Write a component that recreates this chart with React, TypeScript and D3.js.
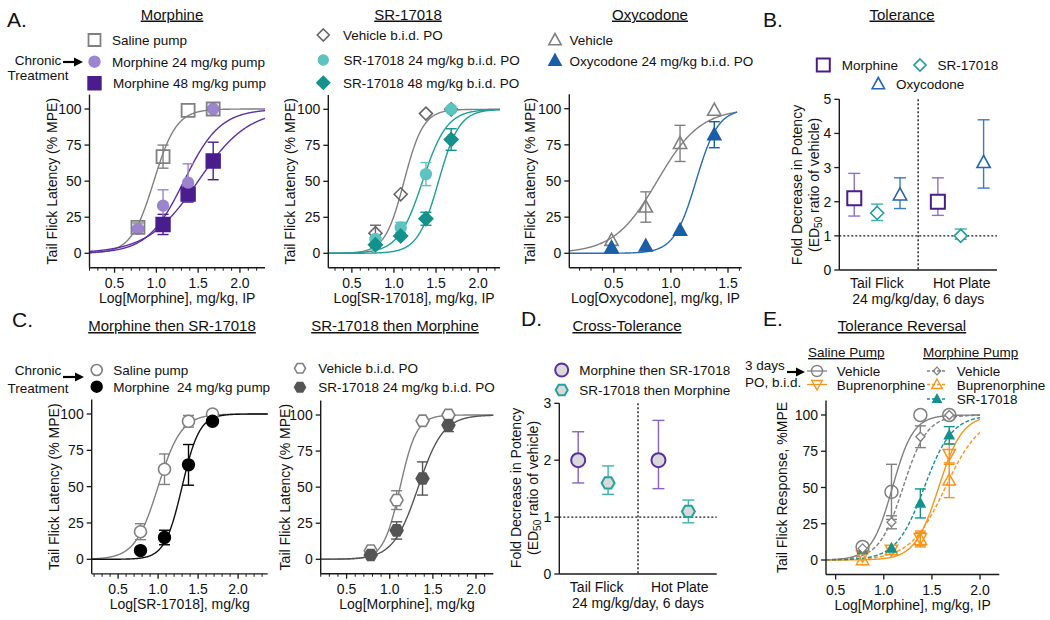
import React from 'react';
import * as d3 from 'd3';

const FONT = '"Liberation Sans", Arial, Helvetica, sans-serif';
const AXIS = '#1a1a1a';
const GRAY = '#808080';
const PURPLE_LIGHT = '#9c84cf';
const PURPLE_DARK = '#4a1d8e';
const PURPLE_LINE = '#5f2fa8';
const TEAL_LIGHT = '#5cc3c0';
const TEAL_DARK = '#13918d';
const TEAL_LINE = '#1d9f9a';
const BLUE = '#1b5ea8';
const ORANGE = '#f7941d';

// ================= DATA =================
const tfDoses = [0.78, 1.08, 1.38, 1.68];
const tfDosesHigh = [1.08, 1.38, 1.68];
const oxyDoses = [0.48, 0.78, 1.08, 1.38];
const logTicks = [0.5, 1.0, 1.5, 2.0];
const oxyTicks = [0.5, 1.0, 1.5];

// A – Morphine
const aMorSalineMean = [18, 67, 99, 100];
const aMorSalineSem = [3, 8, 0, 0];
const aMor24Mean = [17, 33, 49, 100];
const aMor24Sem = [0, 11, 13, 0];
const aMor48Mean = [20, 41, 64];
const aMor48Sem = [7, 5.5, 13];
const aMorEC50 = [0.97, 1.33, 1.5];
const aMorHill = [3.2, 2.0, 1.45];

// A – SR-17018
const aSrVehMean = [14, 41, 97, 100];
const aSrVehSem = [5.5, 0, 0, 0];
const aSr24Mean = [10, 18, 55, 100];
const aSr24Sem = [2, 3.5, 8, 0];
const aSr48Mean = [6, 12, 24, 79];
const aSr48Sem = [2, 0, 4.5, 7.5];
const aSrEC50 = [1.12, 1.34, 1.53];
const aSrHill = [3.8, 3.0, 3.5];

// A – Oxycodone
const aOxyVehMean = [9, 32, 76, 99];
const aOxyVehSem = [0, 10.5, 12.5, 0];
const aOxy24Mean = [4, 5, 16, 82];
const aOxy24Sem = [0, 0, 0, 9];
const aOxyEC50 = [0.88, 1.22];
const aOxyHill = [2.3, 4.5];

// B – Tolerance (fold shift, 95% CI)
const assays = ['Tail Flick', 'Hot Plate'];
const bTicks = [0, 1, 2, 3, 4, 5];
const bMorMean = [2.1, 2.0];
const bMorLo = [1.58, 1.6];
const bMorHi = [2.83, 2.7];
const bSrMean = [1.67, 1.0];
const bSrLo = [1.45, 0.9];
const bSrHi = [1.93, 1.2];
const bOxyMean = [2.2, 3.15];
const bOxyLo = [1.8, 2.4];
const bOxyHi = [2.7, 4.4];

// C – Morphine then SR-17018
const cSalineMean = [19, 62, 95, 100];
const cSalineSem = [5.5, 10.5, 4, 0];
const cMor24Mean = [6, 15, 65, 95];
const cMor24Sem = [0, 5, 14, 1.5];
const cEC50 = [1.0, 1.3];
const cHill = [3.0, 4.0];

// C – SR-17018 then Morphine
const c2VehMean = [6, 41, 96, 100];
const c2VehSem = [0, 6.5, 0, 0];
const c2Sr24Mean = [3, 20, 56, 93];
const c2Sr24Sem = [0, 6, 11.5, 4.5];
const c2EC50 = [1.12, 1.33];
const c2Hill = [4.5, 3.0];

// D – Cross-Tolerance
const dTicks = [0, 1, 2, 3];
const dMorSrMean = [2.0, 2.0];
const dMorSrLo = [1.6, 1.5];
const dMorSrHi = [2.5, 2.7];
const dSrMorMean = [1.6, 1.1];
const dSrMorLo = [1.4, 0.9];
const dSrMorHi = [1.9, 1.3];

// E – Tolerance Reversal
const eSalVehMean = [9, 47, 100, 100];
const eSalVehSem = [0, 19, 0, 0];
const eSalBupMean = [3, 7, 15, 73];
const eSalBupSem = [0, 0, 5, 7];
const eMorVehMean = [8, 26, 85, 100];
const eMorVehSem = [0, 4.5, 7.5, 0];
const eMorBupMean = [0, 7, 14, 55];
const eMorBupSem = [0, 0, 5, 12];
const eSrMean = [7, 8, 39, 86];
const eSrSem = [0, 0, 10, 6];
// order: salVeh, salBup, morVeh, morBup, SR
const eEC50 = [1.09, 1.57, 1.2, 1.64, 1.42];
const eHill = [4.0, 3.5, 3.5, 2.4, 3.0];

// ================= HELPERS =================
const hill = (x: number, ec50: number, h: number) => 100 / (1 + Math.pow(10, (ec50 - x) * h));

function shapePath(shape: string, r: number): string {
  switch (shape) {
    case 'circle':
      return `M${r},0A${r},${r},0,1,1,${-r},0A${r},${r},0,1,1,${r},0Z`;
    case 'square':
      return `M${-r},${-r}H${r}V${r}H${-r}Z`;
    case 'diamond':
      return `M0,${-r}L${r},0L0,${r}L${-r},0Z`;
    case 'triangle':
      return `M0,${-r}L${r * 0.95},${r * 0.72}L${-r * 0.95},${r * 0.72}Z`;
    case 'triangleDown':
      return `M0,${r}L${r * 0.95},${-r * 0.72}L${-r * 0.95},${-r * 0.72}Z`;
    case 'hexagon': {
      const pts = d3.range(6).map((i) => {
        const a = (Math.PI / 3) * i;
        return `${(r * Math.cos(a)).toFixed(2)},${(r * Math.sin(a)).toFixed(2)}`;
      });
      return `M${pts.join('L')}Z`;
    }
    default:
      return '';
  }
}

function Marker({ shape, x, y, r, stroke, fill, sw = 1.4 }: any) {
  return (
    <path d={shapePath(shape, r)} transform={`translate(${x},${y})`} stroke={stroke} fill={fill} strokeWidth={sw} />
  );
}

type Series = {
  x: number[];
  mean: number[];
  sem: number[];
  shape: string;
  r: number;
  stroke: string;
  fill: string;
  sw?: number;
  err?: string;
};
type Fit = { ec50: number; hill: number; color: string; dash?: string; from?: number; to?: number };

function DRPanel(props: any) {
  const { x0, x1, xDom, y0, y100, ticks, minor, xLabel, yLabel, yLabelX, series, fits } = props;
  const x = d3.scaleLinear().domain(xDom).range([x0, x1]);
  const y = d3.scaleLinear().domain([0, 100]).range([y0, y100]);
  const yb = y(-10);
  const yt = y(110);
  const minorTicks = minor
    ? d3
        .range(Math.ceil(xDom[0] * 10) / 10, xDom[1], 0.1)
        .filter((v) => Math.abs(v * 2 - Math.round(v * 2)) > 1e-6)
    : [];
  const yTicks = [0, 25, 50, 75, 100];
  return (
    <g>
      {(fits as Fit[]).map((f, i) => {
        const from = f.from ?? xDom[0];
        const to = f.to ?? xDom[1];
        const xs = d3.range(from, to, 0.005).concat([to]);
        const gen = d3
          .line<number>()
          .x((d) => x(d))
          .y((d) => y(hill(d, f.ec50, f.hill)));
        return (
          <path key={'f' + i} d={gen(xs) || ''} fill="none" stroke={f.color} strokeWidth={1.4} strokeDasharray={f.dash} />
        );
      })}
      {(series as Series[]).map((s, si) =>
        s.x.map((xv, i) => {
          const e = s.sem[i];
          if (!e) return null;
          const cx = x(xv);
          const ya = y(s.mean[i] - e);
          const yb2 = y(s.mean[i] + e);
          const col = s.err || s.stroke;
          return (
            <g key={`e${si}-${i}`} stroke={col} strokeWidth={1.4}>
              <line x1={cx} x2={cx} y1={ya} y2={yb2} />
              <line x1={cx - 5.5} x2={cx + 5.5} y1={ya} y2={ya} />
              <line x1={cx - 5.5} x2={cx + 5.5} y1={yb2} y2={yb2} />
            </g>
          );
        })
      )}
      {(series as Series[]).map((s, si) =>
        s.x.map((xv, i) => (
          <Marker key={`m${si}-${i}`} shape={s.shape} x={x(xv)} y={y(s.mean[i])} r={s.r} stroke={s.stroke} fill={s.fill} sw={s.sw} />
        ))
      )}
      <line x1={x0} x2={x0} y1={yt} y2={yb} stroke={AXIS} strokeWidth={1.4} />
      <line x1={x0} x2={x1} y1={yb} y2={yb} stroke={AXIS} strokeWidth={1.4} />
      {yTicks.map((t) => (
        <g key={'yt' + t}>
          <line x1={x0 - 5} x2={x0} y1={y(t)} y2={y(t)} stroke={AXIS} strokeWidth={1.3} />
          <text x={x0 - 8} y={y(t)} dy="0.36em" textAnchor="end" fontSize={14}>
            {t}
          </text>
        </g>
      ))}
      {minorTicks.map((t) => (
        <line key={'mt' + t} x1={x(t)} x2={x(t)} y1={yb} y2={yb + 3} stroke={AXIS} strokeWidth={1} />
      ))}
      {(ticks as number[]).map((t) => (
        <g key={'xt' + t}>
          <line x1={x(t)} x2={x(t)} y1={yb} y2={yb + 5} stroke={AXIS} strokeWidth={1.3} />
          <text x={x(t)} y={yb + 20} textAnchor="middle" fontSize={14}>
            {t.toFixed(1)}
          </text>
        </g>
      ))}
      <text x={(x0 + x1) / 2} y={yb + 35} textAnchor="middle" fontSize={14}>
        {xLabel}
      </text>
      <text
        transform={`translate(${yLabelX},${(yt + yb) / 2}) rotate(-90)`}
        dy="0.36em"
        textAnchor="middle"
        fontSize={14}
      >
        {yLabel}
      </text>
    </g>
  );
}

type CatSeries = { mean: number[]; lo: number[]; hi: number[]; offset: number; shape: string; r: number; stroke: string; fill: string; err: string; sw: number };

function FoldPanel(props: any) {
  const { x0, x1, yTop, yBot, yMax, ticks, centers, labelCenters, series, ylx1, ylx2, ylCenter } = props;
  const x = d3.scaleLinear().domain([0, 2]).range([x0, x1]);
  const y = d3.scaleLinear().domain([0, yMax]).range([yBot, yTop]);
  return (
    <g>
      <line x1={x(1)} x2={x(1)} y1={yTop} y2={yBot} stroke={AXIS} strokeWidth={1.4} strokeDasharray="2,2" />
      <line x1={x0} x2={x1} y1={y(1)} y2={y(1)} stroke={AXIS} strokeWidth={1.4} strokeDasharray="2,2" />
      {(series as CatSeries[]).map((s, si) =>
        s.mean.map((m, i) => {
          const cx = x(centers[i] + s.offset);
          return (
            <g key={`c${si}-${i}`}>
              <g stroke={s.err} strokeWidth={1.4}>
                <line x1={cx} x2={cx} y1={y(s.lo[i])} y2={y(s.hi[i])} />
                <line x1={cx - 6} x2={cx + 6} y1={y(s.lo[i])} y2={y(s.lo[i])} />
                <line x1={cx - 6} x2={cx + 6} y1={y(s.hi[i])} y2={y(s.hi[i])} />
              </g>
              <Marker shape={s.shape} x={cx} y={y(m)} r={s.r} stroke={s.stroke} fill={s.fill} sw={s.sw} />
            </g>
          );
        })
      )}
      <line x1={x0} x2={x0} y1={yTop} y2={yBot} stroke={AXIS} strokeWidth={1.4} />
      <line x1={x0} x2={x1} y1={yBot} y2={yBot} stroke={AXIS} strokeWidth={1.4} />
      {(ticks as number[]).map((t) => (
        <g key={'t' + t}>
          <line x1={x0 - 5} x2={x0} y1={y(t)} y2={y(t)} stroke={AXIS} strokeWidth={1.3} />
          <text x={x0 - 8} y={y(t)} dy="0.36em" textAnchor="end" fontSize={14}>
            {t}
          </text>
        </g>
      ))}
      {assays.map((a, i) => (
        <text key={a} x={x(labelCenters[i])} y={yBot + 18} textAnchor="middle" fontSize={14}>
          {a}
        </text>
      ))}
      <text x={x(1)} y={yBot + 34} textAnchor="middle" fontSize={14}>
        24 mg/kg/day, 6 days
      </text>
      <text transform={`translate(${ylx1},${ylCenter}) rotate(-90)`} dy="0.36em" textAnchor="middle" fontSize={14}>
        Fold Decrease in Potency
      </text>
      <text transform={`translate(${ylx2},${ylCenter}) rotate(-90)`} dy="0.36em" textAnchor="middle" fontSize={14}>
        (ED
        <tspan dy="3" fontSize={10}>
          50
        </tspan>
        <tspan dy="-3"> ratio of vehicle)</tspan>
      </text>
    </g>
  );
}

function Title({ x, y, text }: any) {
  return (
    <text x={x} y={y} textAnchor="middle" fontSize={15} style={{ textDecoration: 'underline' }}>
      {text}
    </text>
  );
}

function Letter({ x, y, text }: any) {
  return (
    <text x={x} y={y} fontSize={21}>
      {text}
    </text>
  );
}

function Arrow({ x1, x2, y }: any) {
  return (
    <g>
      <line x1={x1} x2={x2 - 7} y1={y} y2={y} stroke="#000" strokeWidth={2.2} />
      <path d={`M${x2},${y}L${x2 - 9},${y - 4.5}L${x2 - 9},${y + 4.5}Z`} fill="#000" />
    </g>
  );
}

function LegendItem({ x, y, tx, shape, r, stroke, fill, sw, text, lineColor, dash }: any) {
  return (
    <g>
      {lineColor && <line x1={x - 10} x2={x + 10} y1={y} y2={y} stroke={lineColor} strokeWidth={1.3} strokeDasharray={dash} />}
      <Marker shape={shape} x={x} y={y} r={r} stroke={stroke} fill={fill} sw={sw} />
      <text x={tx} y={y + 5} fontSize={13.5} style={{ whiteSpace: 'pre' }}>
        {text}
      </text>
    </g>
  );
}

export default function App() {
  const aMorSeries: Series[] = [
    { x: tfDosesHigh, mean: aMor48Mean, sem: aMor48Sem, shape: 'square', r: 7, stroke: PURPLE_DARK, fill: PURPLE_DARK },
    { x: tfDoses, mean: aMor24Mean, sem: aMor24Sem, shape: 'circle', r: 5.5, stroke: PURPLE_LIGHT, fill: PURPLE_LIGHT },
    { x: tfDoses, mean: aMorSalineMean, sem: aMorSalineSem, shape: 'square', r: 6.5, stroke: GRAY, fill: 'none', sw: 1.8 },
  ];
  const aMorFits: Fit[] = [
    { ec50: aMorEC50[0], hill: aMorHill[0], color: GRAY },
    { ec50: aMorEC50[1], hill: aMorHill[1], color: PURPLE_LINE },
    { ec50: aMorEC50[2], hill: aMorHill[2], color: PURPLE_LINE },
  ];
  const aSrSeries: Series[] = [
    { x: tfDoses, mean: aSrVehMean, sem: aSrVehSem, shape: 'diamond', r: 6.5, stroke: '#666', fill: 'none', sw: 1.6 },
    { x: tfDoses, mean: aSr24Mean, sem: aSr24Sem, shape: 'circle', r: 5.5, stroke: TEAL_LIGHT, fill: TEAL_LIGHT },
    { x: tfDoses, mean: aSr48Mean, sem: aSr48Sem, shape: 'diamond', r: 7, stroke: TEAL_DARK, fill: TEAL_DARK },
  ];
  const aSrFits: Fit[] = [
    { ec50: aSrEC50[0], hill: aSrHill[0], color: GRAY },
    { ec50: aSrEC50[1], hill: aSrHill[1], color: TEAL_LINE },
    { ec50: aSrEC50[2], hill: aSrHill[2], color: TEAL_LINE },
  ];
  const aOxySeries: Series[] = [
    { x: oxyDoses, mean: aOxyVehMean, sem: aOxyVehSem, shape: 'triangle', r: 7, stroke: GRAY, fill: 'none', sw: 1.6 },
    { x: oxyDoses, mean: aOxy24Mean, sem: aOxy24Sem, shape: 'triangle', r: 7, stroke: BLUE, fill: BLUE },
  ];
  const aOxyFits: Fit[] = [
    { ec50: aOxyEC50[0], hill: aOxyHill[0], color: GRAY, to: 1.58 },
    { ec50: aOxyEC50[1], hill: aOxyHill[1], color: '#2a6bb5', to: 1.58 },
  ];
  const cSeries: Series[] = [
    { x: tfDoses, mean: cSalineMean, sem: cSalineSem, shape: 'circle', r: 6, stroke: GRAY, fill: '#fff', sw: 1.6 },
    { x: tfDoses, mean: cMor24Mean, sem: cMor24Sem, shape: 'circle', r: 6, stroke: '#000', fill: '#000' },
  ];
  const cFits: Fit[] = [
    { ec50: cEC50[0], hill: cHill[0], color: GRAY },
    { ec50: cEC50[1], hill: cHill[1], color: '#111' },
  ];
  const c2Series: Series[] = [
    { x: tfDoses, mean: c2VehMean, sem: c2VehSem, shape: 'hexagon', r: 6.5, stroke: GRAY, fill: '#fff', sw: 1.6 },
    { x: tfDoses, mean: c2Sr24Mean, sem: c2Sr24Sem, shape: 'hexagon', r: 6.5, stroke: '#555', fill: '#555' },
  ];
  const c2Fits: Fit[] = [
    { ec50: c2EC50[0], hill: c2Hill[0], color: GRAY },
    { ec50: c2EC50[1], hill: c2Hill[1], color: '#555' },
  ];
  const eSeries: Series[] = [
    { x: tfDoses, mean: eSalBupMean, sem: eSalBupSem, shape: 'triangleDown', r: 6.5, stroke: ORANGE, fill: 'none', sw: 1.5 },
    { x: tfDoses, mean: eMorBupMean, sem: eMorBupSem, shape: 'triangle', r: 6.5, stroke: ORANGE, fill: 'none', sw: 1.5 },
    { x: tfDoses, mean: eSrMean, sem: eSrSem, shape: 'triangle', r: 5, stroke: TEAL_DARK, fill: TEAL_DARK },
    { x: tfDoses, mean: eMorVehMean, sem: eMorVehSem, shape: 'diamond', r: 4.5, stroke: GRAY, fill: '#fff', sw: 1.3 },
    { x: tfDoses, mean: eSalVehMean, sem: eSalVehSem, shape: 'circle', r: 6.5, stroke: GRAY, fill: 'none', sw: 1.5 },
  ];
  const eFits: Fit[] = [
    { ec50: eEC50[0], hill: eHill[0], color: GRAY, from: 0.4, to: 2.0 },
    { ec50: eEC50[1], hill: eHill[1], color: ORANGE, from: 0.4, to: 2.0 },
    { ec50: eEC50[2], hill: eHill[2], color: GRAY, dash: '4,2', from: 0.4, to: 2.0 },
    { ec50: eEC50[3], hill: eHill[3], color: ORANGE, dash: '4,2', from: 0.4, to: 2.0 },
    { ec50: eEC50[4], hill: eHill[4], color: TEAL_DARK, dash: '4,2', from: 0.4, to: 2.0 },
  ];
  const bSeries: CatSeries[] = [
    { mean: bMorMean, lo: bMorLo, hi: bMorHi, offset: -0.29, shape: 'square', r: 7, stroke: PURPLE_DARK, fill: '#fff', err: '#8f70c9', sw: 2 },
    { mean: bSrMean, lo: bSrLo, hi: bSrHi, offset: 0, shape: 'diamond', r: 6.5, stroke: TEAL_LINE, fill: '#fff', err: '#3db3ad', sw: 1.6 },
    { mean: bOxyMean, lo: bOxyLo, hi: bOxyHi, offset: 0.29, shape: 'triangle', r: 7, stroke: '#2466b0', fill: '#fff', err: '#3a7cc2', sw: 1.6 },
  ];
  const dSeries: CatSeries[] = [
    { mean: dMorSrMean, lo: dMorSrLo, hi: dMorSrHi, offset: -0.19, shape: 'circle', r: 7, stroke: '#5a2ca6', fill: '#d9d9d9', err: '#8a62c8', sw: 2 },
    { mean: dSrMorMean, lo: dSrMorLo, hi: dSrMorHi, offset: 0.19, shape: 'hexagon', r: 6.5, stroke: '#22a39c', fill: '#d9d9d9', err: '#3cb3ac', sw: 2 },
  ];

  return (
    <div style={{ position: 'absolute', left: 0, top: 0 }}>
      <svg width={1050} height={620} style={{ display: 'block', fontFamily: FONT }} fill="#111">
        <rect width={1050} height={620} fill="#fff" />

        {/* ===== A: Morphine ===== */}
        <Letter x={7} y={27} text="A." />
        <Title x={172} y={19.5} text="Morphine" />
        <text x={38} y={65} textAnchor="middle" fontSize={13.5}>Chronic</text>
        <text x={38} y={80} textAnchor="middle" fontSize={13.5}>Treatment</text>
        <Arrow x1={63} x2={83} y={62} />
        <LegendItem x={94.5} y={40} tx={112} shape="square" r={6} stroke={GRAY} fill="none" sw={1.8} text="Saline pump" />
        <LegendItem x={94.5} y={61.7} tx={112} shape="circle" r={5.5} stroke={PURPLE_LIGHT} fill={PURPLE_LIGHT} text="Morphine 24 mg/kg pump" />
        <LegendItem x={94.5} y={83.3} tx={113} shape="square" r={6.5} stroke={PURPLE_DARK} fill={PURPLE_DARK} text="Morphine 48 mg/kg pump" />
        <DRPanel
          x0={89.5} x1={265} xDom={[0.2, 2.3]} y0={253.3} y100={109} ticks={logTicks} minor
          xLabel="Log[Morphine], mg/kg, IP" yLabel="Tail Flick Latency (% MPE)" yLabelX={52}
          series={aMorSeries} fits={aMorFits}
        />

        {/* ===== A: SR-17018 ===== */}
        <Title x={408} y={19.5} text="SR-17018" />
        <LegendItem x={323.3} y={35} tx={343} shape="diamond" r={6} stroke="#666" fill="none" sw={1.6} text="Vehicle b.i.d. PO" />
        <LegendItem x={323.3} y={60} tx={343.5} shape="circle" r={5} stroke={TEAL_LIGHT} fill={TEAL_LIGHT} text="SR-17018 24 mg/kg b.i.d. PO" />
        <LegendItem x={323.3} y={82.7} tx={343} shape="diamond" r={6.5} stroke={TEAL_DARK} fill={TEAL_DARK} text="SR-17018 48 mg/kg b.i.d. PO" />
        <DRPanel
          x0={328.3} x1={500} xDom={[0.22, 2.26]} y0={253.3} y100={109.3} ticks={logTicks} minor
          xLabel="Log[SR-17018], mg/kg, IP" yLabel="Tail Flick Latency (% MPE)" yLabelX={290}
          series={aSrSeries} fits={aSrFits}
        />

        {/* ===== A: Oxycodone ===== */}
        <Title x={650} y={19.5} text="Oxycodone" />
        <LegendItem x={555} y={40} tx={569.5} shape="triangle" r={6.5} stroke={GRAY} fill="none" sw={1.6} text="Vehicle" />
        <LegendItem x={555} y={60.5} tx={569.5} shape="triangle" r={6.5} stroke={BLUE} fill={BLUE} text="Oxycodone 24 mg/kg b.i.d. PO" />
        <DRPanel
          x0={569.3} x1={741.7} xDom={[0.11, 1.62]} y0={253.3} y100={108.7} ticks={oxyTicks} minor
          xLabel="Log[Oxycodone], mg/kg, IP" yLabel="Tail Flick Latency (% MPE)" yLabelX={530}
          series={aOxySeries} fits={aOxyFits}
        />

        {/* ===== B: Tolerance ===== */}
        <Letter x={763} y={27} text="B." />
        <Title x={902} y={19.5} text="Tolerance" />
        <LegendItem x={823.3} y={65} tx={841.7} shape="square" r={6.5} stroke={PURPLE_DARK} fill="none" sw={2} text="Morphine" />
        <LegendItem x={920} y={65} tx={937.5} shape="diamond" r={6} stroke={TEAL_LINE} fill="none" sw={1.6} text="SR-17018" />
        <LegendItem x={878.3} y={84} tx={896} shape="triangle" r={6.5} stroke="#2466b0" fill="none" sw={1.6} text="Oxycodone" />
        <FoldPanel
          x0={839.3} x1={997} yTop={99.3} yBot={270} yMax={5} ticks={bTicks}
          centers={[0.48, 1.54]} labelCenters={[0.477, 1.553]} series={bSeries}
          ylx1={797} ylx2={814} ylCenter={185}
        />

        {/* ===== C: Morphine then SR-17018 ===== */}
        <Letter x={12} y={327} text="C." />
        <Title x={172} y={331} text="Morphine then SR-17018" />
        <text x={38} y={375} textAnchor="middle" fontSize={13.5}>Chronic</text>
        <text x={38} y={393} textAnchor="middle" fontSize={13.5}>Treatment</text>
        <Arrow x1={63} x2={84} y={377} />
        <LegendItem x={96.7} y={370} tx={113.3} shape="circle" r={5.5} stroke={GRAY} fill="#fff" sw={1.6} text="Saline pump" />
        <LegendItem x={96.7} y={386.7} tx={113.3} shape="circle" r={5.5} stroke="#000" fill="#000" text="Morphine  24 mg/kg pump" />
        <DRPanel
          x0={91.7} x1={267.7} xDom={[0.17, 2.37]} y0={559.3} y100={414} ticks={logTicks} minor
          xLabel="Log[SR-17018], mg/kg" yLabel="Tail Flick Latency (% MPE)" yLabelX={53.5}
          series={cSeries} fits={cFits}
        />

        {/* ===== C: SR-17018 then Morphine ===== */}
        <Title x={395} y={331} text="SR-17018 then Morphine" />
        <LegendItem x={300} y={368.3} tx={318.3} shape="hexagon" r={5.5} stroke={GRAY} fill="#fff" sw={1.6} text="Vehicle b.i.d. PO" />
        <LegendItem x={300} y={387.3} tx={318.3} shape="hexagon" r={5.5} stroke="#555" fill="#555" text="SR-17018 24 mg/kg b.i.d. PO" />
        <DRPanel
          x0={320.7} x1={493.3} xDom={[0.2, 2.2]} y0={559.3} y100={415} ticks={logTicks} minor
          xLabel="Log[Morphine], mg/kg" yLabel="Tail Flick Latency (% MPE)" yLabelX={285}
          series={c2Series} fits={c2Fits}
        />

        {/* ===== D: Cross-Tolerance ===== */}
        <Letter x={521} y={326} text="D." />
        <Title x={627} y={331} text="Cross-Tolerance" />
        <LegendItem x={561.7} y={370} tx={579.3} shape="circle" r={6.5} stroke="#5a2ca6" fill="#d9d9d9" sw={2} text="Morphine then SR-17018" />
        <LegendItem x={561.7} y={390} tx={579.3} shape="hexagon" r={6} stroke="#22a39c" fill="#d9d9d9" sw={2} text="SR-17018 then Morphine" />
        <FoldPanel
          x0={559.3} x1={716.7} yTop={403.3} yBot={574} yMax={3} ticks={dTicks}
          centers={[0.43, 1.45]} labelCenters={[0.475, 1.53]} series={dSeries}
          ylx1={515.5} ylx2={533} ylCenter={488}
        />

        {/* ===== E: Tolerance Reversal ===== */}
        <Letter x={763} y={326} text="E." />
        <Title x={902} y={331} text="Tolerance Reversal" />
        <text x={808} y={357} fontSize={13.5} style={{ textDecoration: 'underline' }}>Saline Pump</text>
        <text x={923} y={357} fontSize={13.5} style={{ textDecoration: 'underline' }}>Morphine Pump</text>
        <text x={745} y={370} fontSize={13.5}>3 days</text>
        <text x={745} y={387} fontSize={13.5}>PO, b.i.d.</text>
        <Arrow x1={787} x2={805} y={372} />
        <LegendItem x={817} y={371} tx={836.7} shape="circle" r={5.5} stroke={GRAY} fill="none" sw={1.4} lineColor={GRAY} text="Vehicle" />
        <LegendItem x={817} y={384.5} tx={836.7} shape="triangleDown" r={5.5} stroke={ORANGE} fill="none" sw={1.4} lineColor={ORANGE} text="Buprenorphine" />
        <LegendItem x={937} y={371} tx={956.7} shape="diamond" r={3.8} stroke={GRAY} fill="none" sw={1.2} lineColor={GRAY} dash="3,2" text="Vehicle" />
        <LegendItem x={937} y={384.5} tx={956.7} shape="triangle" r={5.5} stroke={ORANGE} fill="none" sw={1.4} lineColor={ORANGE} dash="3,2" text="Buprenorphine" />
        <LegendItem x={937} y={399} tx={956.7} shape="triangle" r={4.5} stroke={TEAL_DARK} fill={TEAL_DARK} lineColor={TEAL_DARK} dash="3,2" text="SR-17018" />
        <DRPanel
          x0={826} x1={999.3} xDom={[0.4, 2.2]} y0={560} y100={415} ticks={logTicks} minor={false}
          xLabel="Log[Morphine], mg/kg, IP" yLabel="Tail Flick Response, %MPE" yLabelX={782}
          series={eSeries} fits={eFits}
        />
      </svg>
    </div>
  );
}
